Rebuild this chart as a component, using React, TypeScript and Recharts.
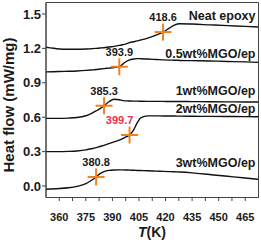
import React from 'react';
import { ComposedChart, Line, XAxis, YAxis, ReferenceArea, ReferenceDot } from 'recharts';

const temps = [352.5, 360, 365, 370, 375, 378, 380.8, 383, 385.3, 388, 391, 393.9, 396, 398, 399.7, 402, 404, 406, 410, 415, 418.6, 422, 425, 428, 435, 445, 455, 465, 472.5];
const neatEpoxy = [1.21, 1.195, 1.192, 1.192, 1.194, 1.197, 1.2, 1.203, 1.206, 1.212, 1.218, 1.226, 1.233, 1.24, 1.25, 1.258, 1.265, 1.273, 1.29, 1.318, 1.342, 1.375, 1.403, 1.415, 1.412, 1.405, 1.398, 1.392, 1.386];
const mgo05 = [0.995, 0.998, 1.0, 1.003, 1.008, 1.012, 1.016, 1.02, 1.024, 1.028, 1.033, 1.04, 1.065, 1.088, 1.1, 1.108, 1.111, 1.11, 1.107, 1.103, 1.1, 1.098, 1.097, 1.095, 1.093, 1.09, 1.086, 1.082, 1.078];
const mgo1 = [0.59, 0.59, 0.592, 0.597, 0.613, 0.632, 0.655, 0.675, 0.7, 0.735, 0.757, 0.752, 0.745, 0.742, 0.741, 0.74, 0.74, 0.739, 0.738, 0.738, 0.738, 0.737, 0.737, 0.737, 0.736, 0.735, 0.734, 0.733, 0.732];
const mgo2 = [0.3, 0.3, 0.302, 0.306, 0.315, 0.325, 0.335, 0.345, 0.355, 0.37, 0.385, 0.4, 0.415, 0.43, 0.445, 0.49, 0.55, 0.595, 0.612, 0.612, 0.611, 0.61, 0.61, 0.609, 0.608, 0.607, 0.606, 0.605, 0.604];
const mgo3 = [-0.028, -0.022, -0.015, -0.003, 0.02, 0.048, 0.079, 0.108, 0.126, 0.136, 0.14, 0.141, 0.141, 0.14, 0.139, 0.137, 0.136, 0.135, 0.133, 0.13, 0.128, 0.126, 0.124, 0.122, 0.115, 0.1, 0.085, 0.07, 0.058];

const seriesNames = ['Neat epoxy', '0.5wt%MGO/ep', '1wt%MGO/ep', '2wt%MGO/ep', '3wt%MGO/ep'];
const seriesLabelY = [1.49, 1.157, 0.831, 0.672, 0.201];

const crossT = [418.6, 393.9, 385.3, 399.7, 380.8];
const crossV = [1.342, 1.04, 0.7, 0.445, 0.079];
const crossLabels = ['418.6', '393.9', '385.3', '399.7', '380.8'];

const xMajor = [360, 375, 390, 405, 420, 435, 450, 465];
const xTicks = [360, 367.5, 375, 382.5, 390, 397.5, 405, 412.5, 420, 427.5, 435, 442.5, 450, 457.5, 465];
const yTicks = [0, 0.3, 0.6, 0.9, 1.2, 1.5];

const allSeries = [neatEpoxy, mgo05, mgo1, mgo2, mgo3];
const data = temps.map((t, i) => {
  const row: any = { T: t };
  allSeries.forEach((s, k) => { row['s' + k] = s[i]; });
  return row;
});

const FONT = 'Liberation Sans, Arial, Helvetica, sans-serif';
const ORANGE = '#f0821e';
const RED = '#ec2f4b';

const XTick = (props: any) => {
  const { x, y, payload } = props;
  if (!xMajor.includes(payload.value)) return null;
  return (
    <text x={x} y={y + 17.5} textAnchor="middle" fontFamily={FONT} fontWeight="bold" fontSize={11} fill="#1a1a1a">
      {payload.value}
    </text>
  );
};

const YTick = (props: any) => {
  const { x, y, payload } = props;
  return (
    <text x={x + 1} y={y} dy="0.36em" textAnchor="end" fontFamily={FONT} fontWeight="bold" fontSize={13} fill="#1a1a1a">
      {payload.value.toFixed(1)}
    </text>
  );
};

const XLabel = () => (
  <text x={152} y={236.5} textAnchor="middle" fontFamily={FONT} fontWeight="bold" fontSize={14} fill="#1a1a1a">
    <tspan fontStyle="italic">T</tspan>(K)
  </text>
);

const YLabel = () => (
  <text x={14} y={105} transform="rotate(-90 14 105)" textAnchor="middle" fontFamily={FONT} fontWeight="bold" fontSize={15} fill="#1a1a1a">
    Heat flow (mW/mg)
  </text>
);

const makeCross = (label: string, red: boolean) => (p: any) => {
  const { cx, cy } = p;
  const s = 8.5;
  return (
    <g>
      <line x1={cx - s} y1={cy} x2={cx + s} y2={cy} stroke={ORANGE} strokeWidth={2} />
      <line x1={cx} y1={cy - s} x2={cx} y2={cy + s} stroke={ORANGE} strokeWidth={2} />
      <text x={red ? cx - 10 : cx} y={cy - 11} textAnchor="middle" fontFamily={FONT} fontWeight="bold" fontSize={11} fill={red ? RED : '#1a1a1a'}>
        {label}
      </text>
    </g>
  );
};

const makeSeriesLabel = (name: string) => (p: any) => {
  const { cx, cy } = p;
  return (
    <text x={cx - 3} y={cy} dy="0.36em" textAnchor="end" fontFamily={FONT} fontWeight="bold" fontSize={12.5} fill="#1a1a1a">
      {name}
    </text>
  );
};

export default function App() {
  return (
    <div style={{ position: 'absolute', left: 0, top: 0, width: 261, height: 240, background: '#fff' }}>
      <ComposedChart width={261} height={240} data={data} margin={{ top: 2.5, right: 2.5, left: 0, bottom: 0 }}>
        <XAxis
          dataKey="T"
          type="number"
          domain={[352.5, 472.5]}
          ticks={xTicks}
          interval={0}
          tickSize={3.5}
          tick={<XTick />}
          axisLine={{ stroke: '#444' }}
          tickLine={{ stroke: '#444' }}
          height={42.5}
          allowDataOverflow
          label={<XLabel />}
        />
        <YAxis
          type="number"
          domain={[-0.1, 1.6]}
          ticks={yTicks}
          interval={0}
          tickSize={4}
          tick={<YTick />}
          axisLine={{ stroke: '#444' }}
          tickLine={{ stroke: '#444' }}
          width={46}
          allowDataOverflow
          label={<YLabel />}
        />
        <ReferenceArea x1={352.5} x2={472.5} y1={-0.1} y2={1.6} fill="none" stroke="#444" strokeWidth={1} ifOverflow="visible" />
        {allSeries.map((_, k) => (
          <Line key={k} type="monotone" dataKey={'s' + k} stroke="#111" strokeWidth={1.4} dot={false} isAnimationActive={false} />
        ))}
        {crossT.map((t, i) => (
          <ReferenceDot key={'c' + i} x={t} y={crossV[i]} r={0} ifOverflow="visible" shape={makeCross(crossLabels[i], i === 3)} />
        ))}
        {seriesNames.map((n, i) => (
          <ReferenceDot key={'l' + i} x={472.5} y={seriesLabelY[i]} r={0} ifOverflow="visible" shape={makeSeriesLabel(n)} />
        ))}
      </ComposedChart>
    </div>
  );
}
